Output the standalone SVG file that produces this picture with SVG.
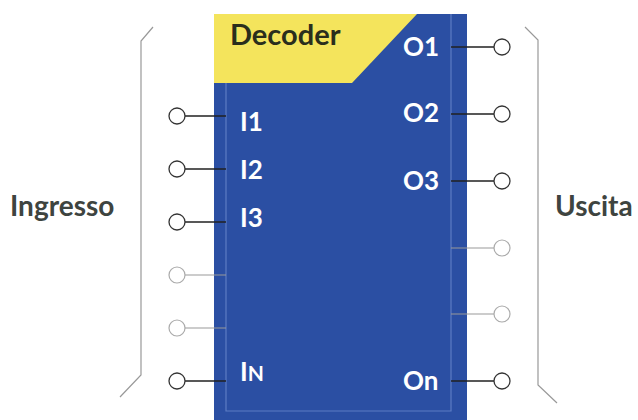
<svg xmlns="http://www.w3.org/2000/svg" width="638" height="420" viewBox="0 0 638 420">
<style>
.lbl{font-family:Lato,"Open Sans",sans-serif;font-weight:bold;fill:#ffffff;font-size:26px}
.side{font-family:Lato,"Open Sans",sans-serif;font-weight:bold;fill:#3e4440;font-size:28px}
.wire{stroke:#222;stroke-width:1.3;fill:none}
.wire2{stroke:#999;stroke-width:1.1;fill:none}
.pin{fill:#fff;stroke:#333;stroke-width:1.3}
.pin2{fill:#fff;stroke:#aaa;stroke-width:1.2}
.br{stroke:#999;stroke-width:1.2;fill:none}
</style>
<rect width="638" height="420" fill="#fff"/>
<g id="decoder">
<rect x="214" y="14" width="253" height="420" fill="#2b4fa3"/>
<polygon points="214,14 417,14 352,83 214,83" fill="#f4e45c"/>
<path d="M226,83 V411 H451 V14" fill="none" stroke="#5d7cc4" stroke-width="1.2"/>
<text x="230" y="45" style="font-family:Lato,'Open Sans',sans-serif;font-weight:bold;font-size:29px;fill:#2a2e1c">Decoder</text>
<text class="lbl" x="240" y="131">I1</text>
<text class="lbl" x="240" y="179">I2</text>
<text class="lbl" x="240" y="227">I3</text>
<text class="lbl" x="240" y="381">I<tspan font-size="21">N</tspan></text>
<text class="lbl" x="403" y="56">O1</text>
<text class="lbl" x="403" y="122">O2</text>
<text class="lbl" x="403" y="190">O3</text>
<text class="lbl" x="403" y="390">On</text>
</g>
<g id="connectors">
<path class="wire" d="M185,116 H226 M185,169 H226 M185,222 H226 M185,381 H226"/>
<path class="wire2" d="M185,275 H226 M185,328 H226"/>
<path class="wire" d="M451,47 H494 M451,114 H494 M451,181 H494 M451,381 H494"/>
<path class="wire2" d="M451,248 H494 M451,314 H494"/>
</g>
<g id="input-pins">
<circle class="pin" cx="177" cy="116" r="8"/>
<circle class="pin" cx="177" cy="169" r="8"/>
<circle class="pin" cx="177" cy="222" r="8"/>
<circle class="pin2" cx="177" cy="275" r="8"/>
<circle class="pin2" cx="177" cy="328" r="8"/>
<circle class="pin" cx="177" cy="381" r="8"/>
</g>
<g id="output-pins">
<circle class="pin" cx="502" cy="47" r="8"/>
<circle class="pin" cx="502" cy="114" r="8"/>
<circle class="pin" cx="502" cy="181" r="8"/>
<circle class="pin2" cx="502" cy="248" r="8"/>
<circle class="pin2" cx="502" cy="314" r="8"/>
<circle class="pin" cx="502" cy="381" r="8"/>
</g>
<g id="ingresso">
<path class="br" d="M153,27 L141,41 V375 L120,397"/>
<text class="side" x="10" y="216">Ingresso</text>
</g>
<g id="uscita">
<path class="br" d="M525,27 L538,40 V385 L557,403"/>
<text class="side" x="555" y="216">Uscita</text>
</g>
</svg>
